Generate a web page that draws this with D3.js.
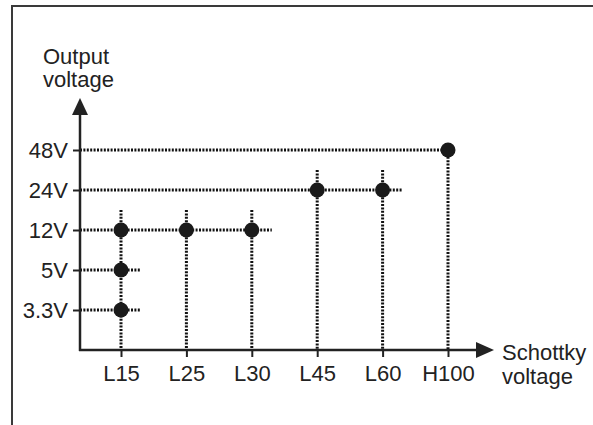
<!DOCTYPE html>
<html>
<head>
<meta charset="utf-8">
<script src="https://cdn.jsdelivr.net/npm/d3@7"></script>
<style>
    body { margin: 0; background: #fff; }
    text { font-family: "Liberation Sans", Arial, sans-serif; fill: #222; }
</style>
</head>
<body>
<div id="chart"></div>
<script>
// data
const diodes = ['L15', 'L25', 'L30', 'L45', 'L60', 'H100'];
const voltages = ['48V', '24V', '12V', '5V', '3.3V'];
const pairDiode = ['L15', 'L15', 'L15', 'L25', 'L30', 'L45', 'L60', 'H100'];
const pairVoltage = ['12V', '5V', '3.3V', '12V', '12V', '24V', '24V', '48V'];

const draw = () => {
    const points = pairDiode.map((d, i) => ({ diode: d, voltage: pairVoltage[i] }));

    const dimensions = {
        width: 593,
        height: 425,
        originX: 80,
        originY: 350,
        fontSize: '22px',
    }

    const svg = d3.select('#chart')
        .append('svg')
        .attr('width', dimensions.width)
        .attr('height', dimensions.height);

    // frame (runs off the right and bottom edges)
    svg.append('rect')
        .attr('x', 12)
        .attr('y', 6)
        .attr('width', 620)
        .attr('height', 440)
        .attr('fill', 'none')
        .attr('stroke', '#3a3a3a')
        .attr('stroke-width', 2);

    // scales
    const xScale = d3.scalePoint()
        .domain(diodes)
        .range([121, 448]);

    const yScale = d3.scalePoint()
        .domain(voltages)
        .range([150, 310]);

    const ext = 20;
    const dotted = sel => sel
        .attr('stroke', '#111')
        .attr('stroke-width', 3)
        .attr('stroke-dasharray', '2 1.4');

    // horizontal guides, one per voltage
    const hLines = voltages.map(v => {
        const xs = points.filter(p => p.voltage === v).map(p => xScale(p.diode));
        const isTop = v === voltages[0];
        return { v, x2: d3.max(xs) + (isTop ? 0 : ext) };
    });

    svg.append('g')
        .selectAll('line')
        .data(hLines)
        .join('line')
        .attr('x1', dimensions.originX)
        .attr('x2', d => d.x2)
        .attr('y1', d => yScale(d.v))
        .attr('y2', d => yScale(d.v))
        .call(dotted);

    // vertical guides, one per diode
    const vLines = diodes.map(d => {
        const ys = points.filter(p => p.diode === d).map(p => yScale(p.voltage));
        const isLast = d === diodes[diodes.length - 1];
        return { d, y1: d3.min(ys) - (isLast ? 0 : ext) };
    });

    svg.append('g')
        .selectAll('line')
        .data(vLines)
        .join('line')
        .attr('x1', d => xScale(d.d))
        .attr('x2', d => xScale(d.d))
        .attr('y1', d => d.y1)
        .attr('y2', dimensions.originY)
        .call(dotted);

    // axes
    const styleTicks = g => {
        g.select('.domain').remove();
        g.attr('font-family', null).attr('font-size', null);
        g.selectAll('.tick line').attr('stroke', '#222').attr('stroke-width', 2);
        g.selectAll('.tick text')
            .style('font-size', dimensions.fontSize)
            .attr('fill', '#222');
    }

    const xAxis = d3.axisBottom(xScale)
        .tickSize(7)
        .tickSizeOuter(0)
        .tickPadding(8);

    svg.append('g')
        .attr('transform', `translate(0, ${dimensions.originY})`)
        .call(xAxis)
        .call(styleTicks);

    const yAxis = d3.axisLeft(yScale)
        .tickSize(7)
        .tickSizeOuter(0)
        .tickPadding(5);

    svg.append('g')
        .attr('transform', `translate(${dimensions.originX}, 0)`)
        .call(yAxis)
        .call(styleTicks);

    // axis lines with arrow heads
    svg.append('line')
        .attr('x1', dimensions.originX)
        .attr('x2', dimensions.originX)
        .attr('y1', dimensions.originY + 1)
        .attr('y2', 112)
        .attr('stroke', '#222')
        .attr('stroke-width', 2.5);

    svg.append('path')
        .attr('d', `M${dimensions.originX - 8},115 L${dimensions.originX},98 L${dimensions.originX + 8},115 Z`)
        .attr('fill', '#222');

    svg.append('line')
        .attr('x1', dimensions.originX - 1)
        .attr('x2', 478)
        .attr('y1', dimensions.originY)
        .attr('y2', dimensions.originY)
        .attr('stroke', '#222')
        .attr('stroke-width', 2.5);

    svg.append('path')
        .attr('d', `M476,${dimensions.originY - 8} L494,${dimensions.originY} L476,${dimensions.originY + 8} Z`)
        .attr('fill', '#222');

    // points
    svg.append('g')
        .selectAll('circle')
        .data(points)
        .join('circle')
        .attr('cx', p => xScale(p.diode))
        .attr('cy', p => yScale(p.voltage))
        .attr('r', 7.5)
        .attr('fill', '#1a1a1a');

    // axis titles
    const yTitle = svg.append('text')
        .style('font-size', dimensions.fontSize);
    yTitle.append('tspan').attr('x', 43).attr('y', 64).text('Output');
    yTitle.append('tspan').attr('x', 43).attr('y', 87).text('voltage');

    const xTitle = svg.append('text')
        .style('font-size', dimensions.fontSize);
    xTitle.append('tspan').attr('x', 502).attr('y', 360).text('Schottky');
    xTitle.append('tspan').attr('x', 502).attr('y', 384).text('voltage');
}

draw();
</script>
</body>
</html>
